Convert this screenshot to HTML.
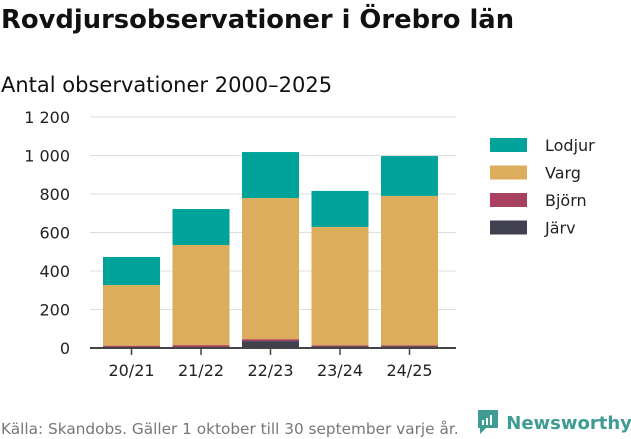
<!DOCTYPE html>
<html><head><meta charset="utf-8"><style>
body{margin:0;width:631px;height:439px;background:#fff;font-family:"DejaVu Sans","Liberation Sans",sans-serif;color:#111;overflow:hidden;position:relative}
.t{position:absolute;white-space:nowrap}
</style></head><body>
<div class="t" style="left:1px;top:5px;font-size:25.8px;font-weight:bold">Rovdjursobservationer i Örebro län</div>
<div class="t" style="left:1px;top:73px;font-size:21px">Antal observationer 2000–2025</div>
<svg id="c" width="631" height="439" style="position:absolute;left:0;top:0"></svg>
<div class="t" style="left:1px;top:420px;font-size:15.3px;color:#777">Källa: Skandobs. Gäller 1 oktober till 30 september varje år.</div>
<div class="t" style="left:476px;top:408px;font-size:18px;color:#3e9c92;font-weight:bold">
<svg width="24" height="28" style="vertical-align:-7px"><path d="M2 2h20v18H10l-6 6v-6H2z" fill="#3e9c92"/><rect x="6" y="12" width="2" height="5" fill="#fff"/><rect x="10" y="10" width="2" height="7" fill="#fff"/><rect x="14" y="7" width="2" height="10" fill="#fff"/></svg> Newsworthy</div>
<script>
const categories=["20/21","21/22","22/23","23/24","24/25"];
const jarv=[3,4,36,8,8];
const bjorn=[9,11,10,6,6];
const varg=[315,520,733,615,776];
const lodjur=[146,187,239,187,207];
const yTicks=[0,200,400,600,800,1000,1200];
const yTickLabels=["0","200","400","600","800","1 000","1 200"];
const series=[{n:"Järv",v:jarv,c:"#40404f"},{n:"Björn",v:bjorn,c:"#a8415f"},{n:"Varg",v:varg,c:"#dbad5c"},{n:"Lodjur",v:lodjur,c:"#00a39a"}];
const svg=document.getElementById('c');const NS="http://www.w3.org/2000/svg";
const y=v=>348-v*231/1200;const x=i=>103+i*69.5;const bw=57;
function mk(t,a,p){const e=document.createElementNS(NS,t);for(const k in a)e.setAttribute(k,a[k]);(p||svg).appendChild(e);return e;}
yTicks.forEach((t,i)=>{
 if(t>0){const g=mk('line',{x1:90,x2:456,y1:y(t),y2:y(t),stroke:'#ddd','stroke-width':1});
 
 }
 const l=mk('text',{x:70,y:y(t)+6,'text-anchor':'end','font-size':16,fill:'#222'});l.textContent=yTickLabels[i];
 
 
});
categories.forEach((c,i)=>{
 let acc=0;
 series.forEach(s=>{const v=s.v[i];const r=mk('rect',{x:x(i),y:y(acc+v),width:bw,height:y(acc)-y(acc+v),fill:s.c});
 
 
 acc+=v;});
 const tk=mk('line',{x1:x(i)+bw/2,x2:x(i)+bw/2,y1:348,y2:355,stroke:'#444','stroke-width':1.5});
 
 
 const l=mk('text',{x:x(i)+bw/2,y:376,'text-anchor':'middle','font-size':16,fill:'#222'});l.textContent=c;
 
 
});
const ax=mk('line',{x1:90,x2:456,y1:348,y2:348,stroke:'#444','stroke-width':2});


[...series].reverse().forEach((s,i)=>{
 const yy=138+i*27.5;
 const r=mk('rect',{x:490,y:yy,width:37,height:14,fill:s.c});
 
 
 const t=mk('text',{x:545,y:yy+13,'font-size':16,fill:'#222'});t.textContent=s.n;
 
 
});
</script>
</body></html>
